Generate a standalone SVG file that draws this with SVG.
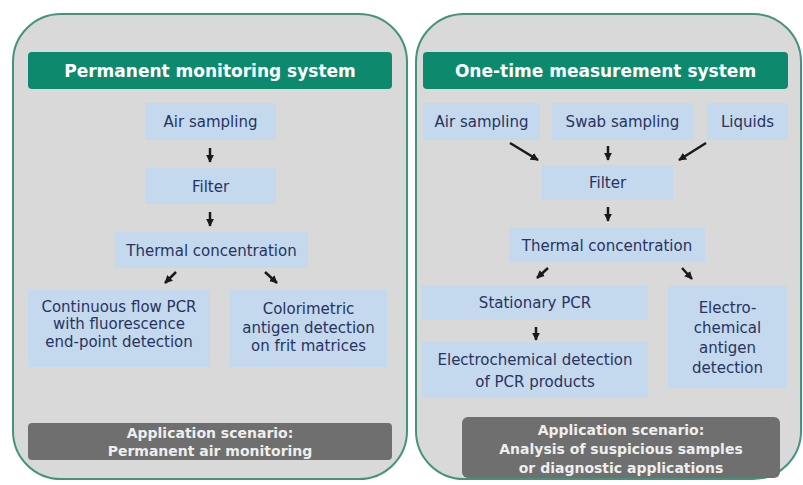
<svg xmlns="http://www.w3.org/2000/svg" width="803" height="485" viewBox="0 0 803 485">
  <defs>
    <marker id="arr" viewBox="0 0 10 10" refX="9" refY="5" markerWidth="3.2" markerHeight="3.2" orient="auto" markerUnits="strokeWidth">
      <path d="M0,0 L10,5 L0,10 z" fill="#1a1a1a"/>
    </marker>
    <style>
      .panel { fill: #d9d9d9; stroke: #44937d; stroke-width: 2; }
      .head { fill: #0d8a6e; }
      .headtxt { font-family: "DejaVu Sans", "Liberation Sans", sans-serif; font-weight: bold; font-size: 17px; fill: #ffffff; text-anchor: middle; }
      .box { fill: #c4d8ee; }
      .txt { font-family: "DejaVu Sans", "Liberation Sans", sans-serif; font-size: 15px; fill: #28345f; text-anchor: middle; }
      .app { fill: #6f6f6f; }
      .apptxt { font-family: "DejaVu Sans", "Liberation Sans", sans-serif; font-weight: bold; font-size: 14px; fill: #eeeeee; text-anchor: middle; }
      .conn line { stroke: #1a1a1a; stroke-width: 2.5; marker-end: url(#arr); }
    </style>
  </defs>

  <rect width="803" height="485" fill="#ffffff"/>

  <!-- Left panel: permanent monitoring -->
  <g id="panel-left">
    <rect class="panel" x="13" y="14" width="394" height="465" rx="48"/>
    <rect class="head" x="28" y="52" width="364" height="37" rx="4"/>
    <text class="headtxt" x="210" y="76.5">Permanent monitoring system</text>
  </g>
  <g id="l-air">
    <rect class="box" x="145" y="103" width="131" height="37"/>
    <text class="txt" x="210.5" y="127">Air sampling</text>
  </g>
  <g id="l-filter">
    <rect class="box" x="145" y="168" width="131" height="36"/>
    <text class="txt" x="210.5" y="191.5">Filter</text>
  </g>
  <g id="l-thermal">
    <rect class="box" x="115" y="232" width="193" height="36"/>
    <text class="txt" x="211.5" y="255.5">Thermal concentration</text>
  </g>
  <g id="l-pcr">
    <rect class="box" x="28" y="290" width="182" height="77"/>
    <text class="txt" x="119" y="312">Continuous flow PCR</text>
    <text class="txt" x="119" y="329">with fluorescence</text>
    <text class="txt" x="119" y="347">end-point detection</text>
  </g>
  <g id="l-color">
    <rect class="box" x="230" y="290" width="157" height="77"/>
    <text class="txt" x="308.5" y="314">Colorimetric</text>
    <text class="txt" x="308.5" y="333">antigen detection</text>
    <text class="txt" x="308.5" y="351">on frit matrices</text>
  </g>
  <g id="l-app">
    <rect class="app" x="28" y="423" width="364" height="37" rx="4"/>
    <text class="apptxt" x="210" y="438">Application scenario:</text>
    <text class="apptxt" x="210" y="456">Permanent air monitoring</text>
  </g>

  <!-- Right panel: one-time measurement -->
  <g id="panel-right">
    <rect class="panel" x="416" y="14" width="385" height="465" rx="48"/>
    <rect class="head" x="423" y="52" width="365" height="37" rx="4"/>
    <text class="headtxt" x="605.5" y="76.5">One-time measurement system</text>
  </g>
  <g id="r-air">
    <rect class="box" x="423" y="103" width="117" height="37"/>
    <text class="txt" x="481.5" y="127">Air sampling</text>
  </g>
  <g id="r-swab">
    <rect class="box" x="552" y="103" width="141" height="37"/>
    <text class="txt" x="622.5" y="127">Swab sampling</text>
  </g>
  <g id="r-liquids">
    <rect class="box" x="707" y="103" width="81" height="37"/>
    <text class="txt" x="747.5" y="127">Liquids</text>
  </g>
  <g id="r-filter">
    <rect class="box" x="542" y="165" width="131" height="35"/>
    <text class="txt" x="607.5" y="188">Filter</text>
  </g>
  <g id="r-thermal">
    <rect class="box" x="509" y="228" width="196" height="34"/>
    <text class="txt" x="607" y="250.5">Thermal concentration</text>
  </g>
  <g id="r-pcr">
    <rect class="box" x="422" y="285" width="226" height="35"/>
    <text class="txt" x="535" y="307.5">Stationary PCR</text>
  </g>
  <g id="r-echem">
    <rect class="box" x="422" y="342" width="226" height="56"/>
    <text class="txt" x="535" y="365">Electrochemical detection</text>
    <text class="txt" x="535" y="387">of PCR products</text>
  </g>
  <g id="r-antigen">
    <rect class="box" x="668" y="285" width="119" height="103" rx="4"/>
    <text class="txt" x="727.5" y="313">Electro-</text>
    <text class="txt" x="727.5" y="333">chemical</text>
    <text class="txt" x="727.5" y="353">antigen</text>
    <text class="txt" x="727.5" y="373">detection</text>
  </g>
  <g id="r-app">
    <rect class="app" x="462" y="417" width="318" height="61" rx="6"/>
    <text class="apptxt" x="621" y="435">Application scenario:</text>
    <text class="apptxt" x="621" y="454">Analysis of suspicious samples</text>
    <text class="apptxt" x="621" y="473">or diagnostic applications</text>
  </g>

  <!-- Connectors -->
  <g id="connectors" class="conn">
    <line x1="210" y1="148" x2="210" y2="162"/>
    <line x1="210" y1="212" x2="210" y2="226"/>
    <line x1="176" y1="272" x2="165" y2="283"/>
    <line x1="265" y1="272" x2="277" y2="283"/>
    <line x1="510" y1="143" x2="538" y2="160"/>
    <line x1="608" y1="146" x2="608" y2="160"/>
    <line x1="706" y1="143" x2="679" y2="160"/>
    <line x1="608" y1="207" x2="608" y2="221"/>
    <line x1="548" y1="268" x2="537" y2="278"/>
    <line x1="682" y1="268" x2="692" y2="279"/>
    <line x1="536" y1="327" x2="536" y2="340"/>
  </g>
</svg>
